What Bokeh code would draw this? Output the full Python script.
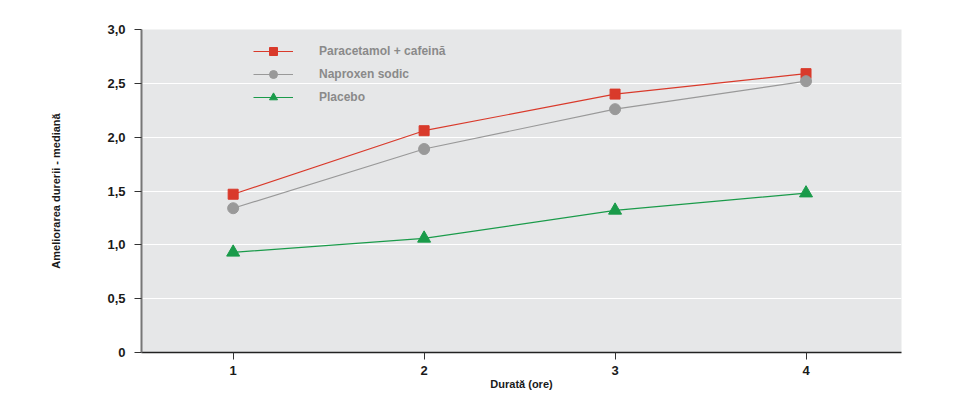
from bokeh.plotting import figure
from bokeh.models import Legend, LegendItem, FixedTicker
from bokeh.embed import file_html
from bokeh.resources import INLINE

# data
hours = [1, 2, 3, 4]
paracetamol = [1.47, 2.06, 2.40, 2.59]
naproxen = [1.34, 1.89, 2.26, 2.52]
placebo = [0.93, 1.06, 1.32, 1.48]

y_ticks = [0, 0.5, 1.0, 1.5, 2.0, 2.5, 3.0]
y_tick_labels = ["0", "0,5", "1,0", "1,5", "2,0", "2,5", "3,0"]

FONT = "Liberation Sans"

p = figure(width=955, height=400, x_range=(0.52, 4.5), y_range=(0, 3.0),
           toolbar_location=None, tools="", output_backend="svg",
           min_border_left=141, min_border_right=54, min_border_top=29,
           min_border_bottom=48)

p.background_fill_color = "#e6e7e8"
p.border_fill_color = "white"
p.outline_line_color = None

# grid
p.xgrid.grid_line_color = None
p.ygrid.grid_line_color = "white"
p.ygrid.grid_line_width = 1.2
p.ygrid.ticker = FixedTicker(ticks=y_ticks)

# axes
p.yaxis.ticker = FixedTicker(ticks=y_ticks)
p.yaxis.major_label_overrides = {t: l for t, l in zip(y_ticks, y_tick_labels)}
p.xaxis.ticker = FixedTicker(ticks=hours)

for ax in (p.xaxis, p.yaxis):
    ax.minor_tick_line_color = None
    ax.major_tick_in = 0
    ax.major_tick_out = 7
    ax.major_tick_line_color = "#333333"
    ax.major_label_text_font = FONT
    ax.major_label_text_font_style = "bold"
    ax.major_label_text_font_size = "13px"
    ax.major_label_text_color = "#1a1a1a"
    ax.axis_label_text_font = FONT
    ax.axis_label_text_font_style = "bold"
    ax.axis_label_text_font_size = "11px"
    ax.axis_label_text_color = "#1a1a1a"

p.yaxis.axis_line_color = "#777777"
p.yaxis.axis_line_width = 2
p.xaxis.axis_line_color = "#222222"
p.xaxis.axis_line_width = 1.5
p.yaxis.major_label_standoff = 9
p.xaxis.major_label_standoff = 6

p.xaxis.axis_label = "Durată (ore)"
p.yaxis.axis_label = "Ameliorarea durerii - mediană"
p.xaxis.axis_label_standoff = 0
p.yaxis.axis_label_standoff = 42

# series
red = "#d93a2b"
gray = "#999999"
green = "#1a9b4a"

l1 = p.line(hours, paracetamol, line_color=red, line_width=1.2)
s1 = p.scatter(hours, paracetamol, marker="square", size=10, fill_color=red, line_color=red)
l2 = p.line(hours, naproxen, line_color=gray, line_width=1.2)
s2 = p.scatter(hours, naproxen, marker="circle", size=11, fill_color=gray, line_color=gray)
l3 = p.line(hours, placebo, line_color=green, line_width=1.2)
s3 = p.scatter(hours, placebo, marker="triangle", size=13, fill_color=green, line_color=green)

legend = Legend(items=[
    LegendItem(label="Paracetamol + cafeină", renderers=[l1, s1]),
    LegendItem(label="Naproxen sodic", renderers=[l2, s2]),
    LegendItem(label="Placebo", renderers=[l3, s3]),
], location=(112, 245))
legend.background_fill_alpha = 0
legend.border_line_color = None
legend.padding = 0
legend.margin = 0
legend.spacing = 3
legend.glyph_width = 40
legend.glyph_height = 20
legend.label_standoff = 26
legend.label_text_font = FONT
legend.label_text_font_style = "bold"
legend.label_text_font_size = "12px"
legend.label_text_color = "#8a8a8a"
p.add_layout(legend, "center")

open("out.html", "w").write(file_html(p, INLINE))
